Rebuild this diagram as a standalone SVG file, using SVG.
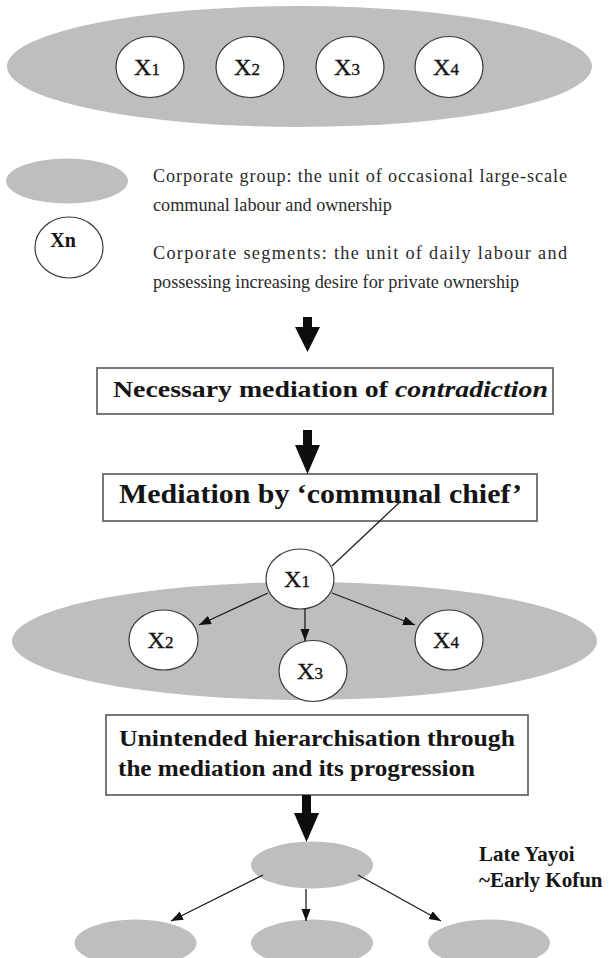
<svg xmlns="http://www.w3.org/2000/svg" width="611" height="958" viewBox="0 0 611 958">
  <style>
    .group { fill: #bebebe; stroke: none; }
    .seg { fill: #ffffff; stroke: #3a3a3a; stroke-width: 1.2; }
    .xl { font-family: "Liberation Serif", "Times New Roman", serif; font-size: 24px; fill: #141414; stroke: #141414; stroke-width: 0.35; }
    .xl tspan.d { font-size: 17px; }
    .legend { font-family: "Liberation Serif", "Times New Roman", serif; font-size: 18.2px; fill: #2a2a2a; }
    .box { fill: #ffffff; stroke: #6a6a6a; stroke-width: 1.8; }
    .head { font-family: "Liberation Serif", "Times New Roman", serif; font-weight: bold; fill: #151515; }
    .thin { stroke: #1e1e1e; stroke-width: 1.3; fill: none; }
    .big { fill: #0d0d0d; stroke: none; }
  </style>
  <defs>
    <marker id="tri" markerUnits="userSpaceOnUse" markerWidth="13" markerHeight="10" refX="12" refY="4.5" orient="auto">
      <path d="M0,0 L12,4.5 L0,9 z" fill="#111111"/>
    </marker>
  </defs>

  <rect width="611" height="958" fill="#ffffff"/>

  <!-- corporate group with four segments -->
  <g id="group-top">
    <ellipse class="group" cx="299.5" cy="66.5" rx="292.5" ry="60.5"/>
    <g id="top-x1"><ellipse class="seg" cx="150" cy="67" rx="34" ry="30.5"/><text class="xl" x="147" y="75" text-anchor="middle">X<tspan class="d">1</tspan></text></g>
    <g id="top-x2"><ellipse class="seg" cx="250" cy="67" rx="34" ry="30.5"/><text class="xl" x="247" y="75" text-anchor="middle">X<tspan class="d">2</tspan></text></g>
    <g id="top-x3"><ellipse class="seg" cx="350" cy="67" rx="34" ry="30.5"/><text class="xl" x="347" y="75" text-anchor="middle">X<tspan class="d">3</tspan></text></g>
    <g id="top-x4"><ellipse class="seg" cx="449" cy="67" rx="34" ry="30.5"/><text class="xl" x="446" y="75" text-anchor="middle">X<tspan class="d">4</tspan></text></g>
  </g>

  <!-- legend -->
  <g id="legend">
    <ellipse class="group" cx="67" cy="181" rx="61" ry="22.5"/>
    <ellipse class="seg" cx="69" cy="247.5" rx="34" ry="30.5"/>
    <text x="63" y="247" text-anchor="middle" font-family="Liberation Serif, serif" font-weight="bold" font-size="20" fill="#141414">Xn</text>
    <text class="legend" x="153" y="182" textLength="414" lengthAdjust="spacing">Corporate group: the unit of occasional large-scale</text>
    <text class="legend" x="153" y="211">communal labour and ownership</text>
    <text class="legend" x="153" y="259" textLength="414" lengthAdjust="spacing">Corporate segments: the unit of daily labour and</text>
    <text class="legend" x="153" y="288">possessing increasing desire for private ownership</text>
  </g>

  <!-- statements -->
  <g id="box-contradiction">
    <rect class="box" x="97" y="368" width="456" height="46"/>
    <text class="head" x="113" y="397" font-size="24" textLength="435" lengthAdjust="spacingAndGlyphs">Necessary mediation of <tspan font-style="italic">contradiction</tspan></text>
  </g>
  <g id="box-chief">
    <rect class="box" x="103" y="474" width="434" height="47"/>
    <text class="head" x="119" y="503" font-size="27" textLength="403" lengthAdjust="spacingAndGlyphs">Mediation by ‘communal chief’</text>
  </g>

  <!-- group mediated by a chief segment -->
  <g id="group-mid">
    <ellipse class="group" cx="304.5" cy="641" rx="292.5" ry="59"/>
  </g>
  <g id="mid-x2"><ellipse class="seg" cx="163.5" cy="640" rx="34.5" ry="30"/><text class="xl" x="160.5" y="648" text-anchor="middle">X<tspan class="d">2</tspan></text></g>
  <g id="mid-x4"><ellipse class="seg" cx="449" cy="640" rx="34" ry="30"/><text class="xl" x="446" y="648" text-anchor="middle">X<tspan class="d">4</tspan></text></g>
  <g id="mid-x3"><ellipse class="seg" cx="313" cy="671" rx="34" ry="30.5"/><text class="xl" x="310" y="679" text-anchor="middle">X<tspan class="d">3</tspan></text></g>
  <g id="mid-x1"><ellipse class="seg" cx="300" cy="579" rx="34" ry="30"/><text class="xl" x="297" y="587" text-anchor="middle">X<tspan class="d">1</tspan></text></g>

  <g id="box-hierarchisation">
    <rect class="box" x="106" y="715" width="422" height="80"/>
    <text class="head" x="119" y="746" font-size="24" textLength="396" lengthAdjust="spacingAndGlyphs">Unintended hierarchisation through</text>
    <text class="head" x="118" y="776" font-size="24" textLength="357" lengthAdjust="spacingAndGlyphs">the mediation and its progression</text>
  </g>

  <!-- hierarchised groups -->
  <g id="grp-top"><ellipse class="group" cx="312" cy="865" rx="61" ry="23.5"/></g>
  <g id="grp-left"><ellipse class="group" cx="135.5" cy="943" rx="61" ry="23.5"/></g>
  <g id="grp-centre"><ellipse class="group" cx="312" cy="943" rx="61" ry="23.5"/></g>
  <g id="grp-right"><ellipse class="group" cx="489" cy="943" rx="61" ry="23.5"/></g>

  <g id="period-label" class="head" font-size="21">
    <text x="479" y="861">Late Yayoi</text>
    <text x="479" y="887">~Early Kofun</text>
  </g>

  <!-- connectors -->
  <g id="connectors">
    <path class="big" d="M303,317 H312 V327 H320 L307.5,352 L295,327 H303 Z"/>
    <path class="big" d="M303,430 H312 V445 H320 L307.5,474 L295,445 H303 Z"/>
    <path class="big" d="M302,795 H311 V813 H319 L306.5,842 L294,813 H302 Z"/>
    <line class="thin" x1="401" y1="501" x2="332" y2="566"/>
    <line class="thin" x1="268" y1="593" x2="199" y2="625" marker-end="url(#tri)"/>
    <line class="thin" x1="305" y1="609" x2="305" y2="641" marker-end="url(#tri)"/>
    <line class="thin" x1="332" y1="593" x2="415" y2="625" marker-end="url(#tri)"/>
    <line class="thin" x1="263" y1="875" x2="171" y2="921" marker-end="url(#tri)"/>
    <line class="thin" x1="306" y1="889" x2="306" y2="921" marker-end="url(#tri)"/>
    <line class="thin" x1="358" y1="875" x2="441" y2="921" marker-end="url(#tri)"/>
  </g>
</svg>
